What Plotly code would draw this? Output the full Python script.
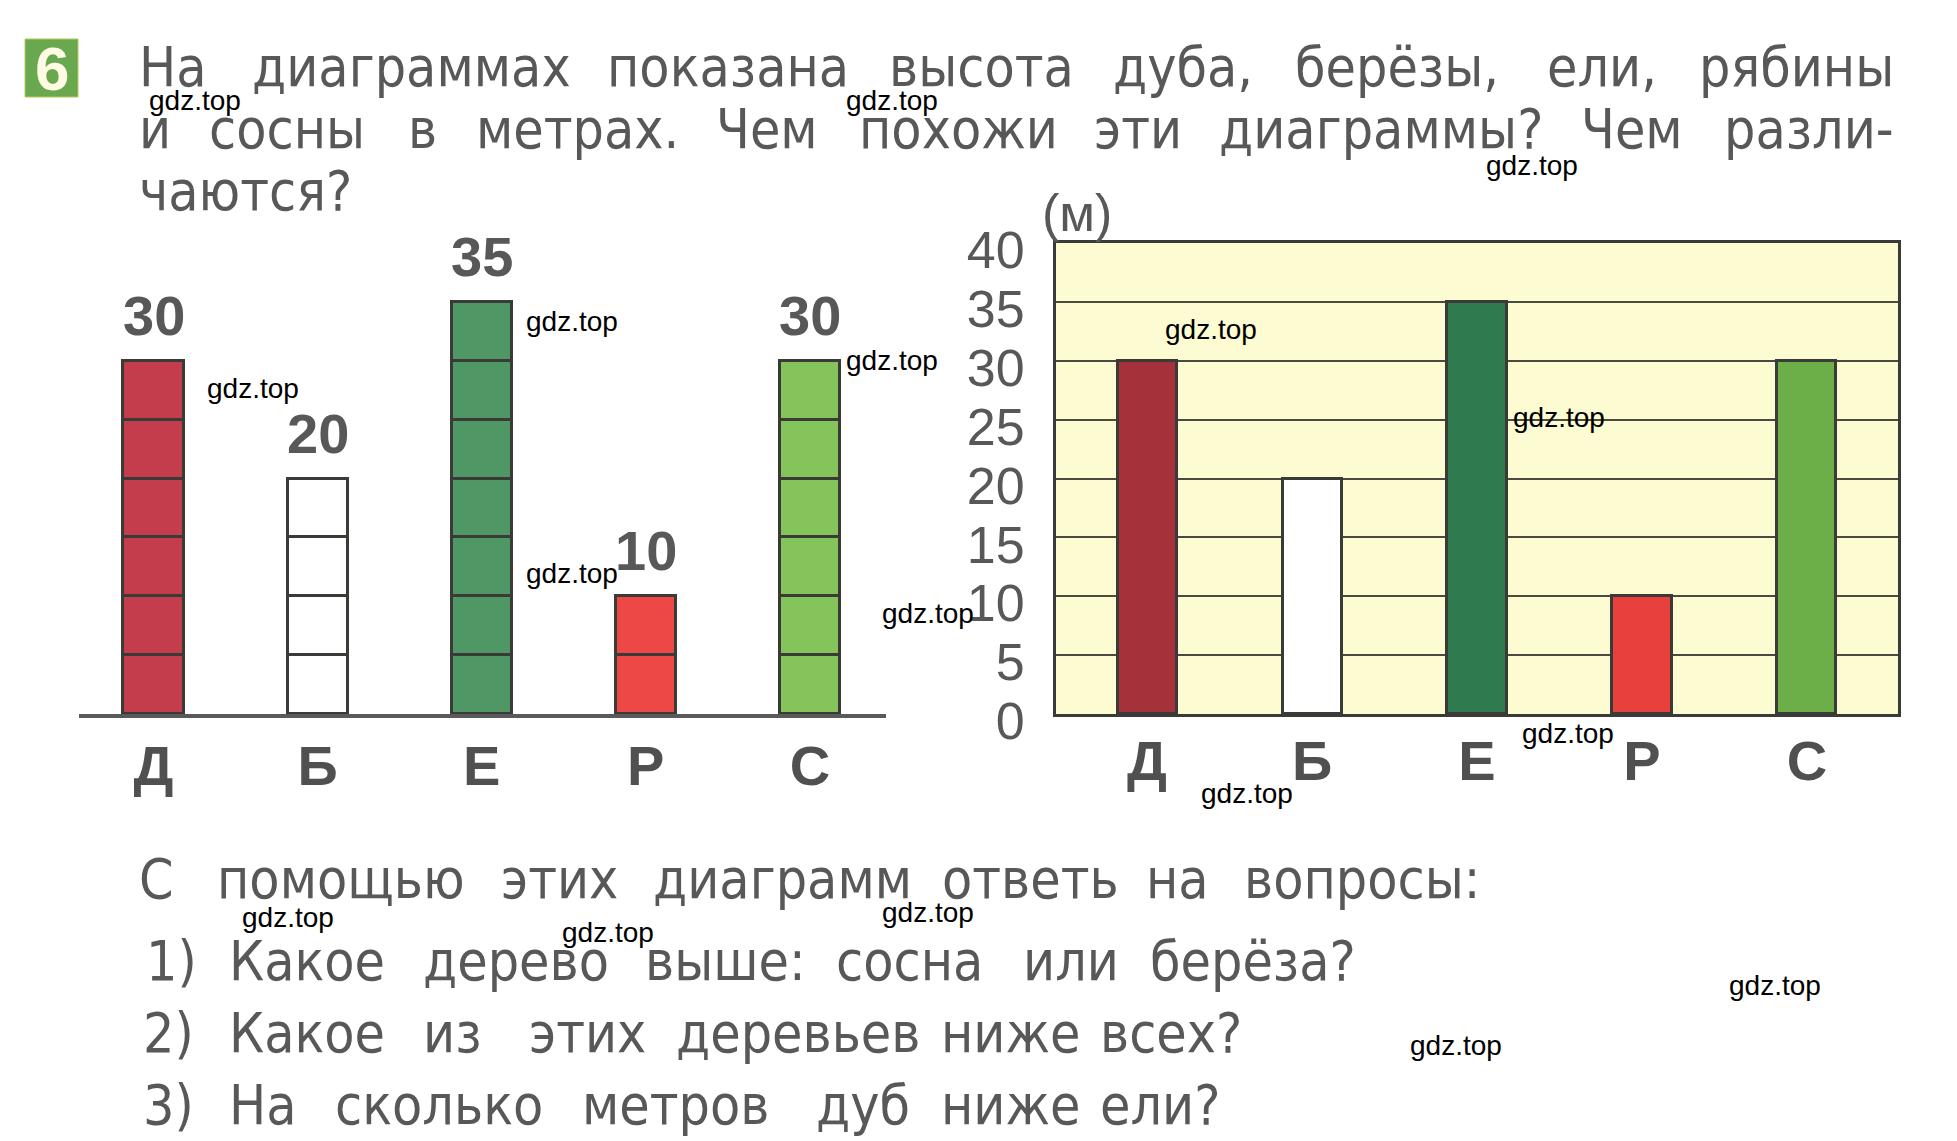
import plotly.graph_objects as go

# ---------------- data ----------------
categories = ["Д", "Б", "Е", "Р", "С"]
heights_m = [30, 20, 35, 10, 30]
segment_m = 5
y_ticks = [0, 5, 10, 15, 20, 25, 30, 35, 40]
left_colors = ["#c43d4d", "#ffffff", "#4f9764", "#ee4846", "#85c35b"]
right_colors = ["#a5323b", "#ffffff", "#2f7a4f", "#e8403c", "#6caf48"]

title_lines = [
    ["На", "диаграммах", "показана", "высота", "дуба,", "берёзы,", "ели,", "рябины"],
    ["и", "сосны", "в", "метрах.", "Чем", "похожи", "эти", "диаграммы?", "Чем", "разли-"],
    ["чаются?"],
]
question_lines = [
    ["С", "помощью", "этих", "диаграмм", "ответь", "на", "вопросы:"],
    ["1)", "Какое", "дерево", "выше:", "сосна", "или", "берёза?"],
    ["2)", "Какое", "из", "этих", "деревьев", "ниже", "всех?"],
    ["3)", "На", "сколько", "метров", "дуб", "ниже", "ели?"],
]
watermark = "gdz.top"

# ---------------- layout constants ----------------
W, H = 1957, 1141
def px(x):
    return x / W
def py(y):
    return 1 - y / H

title_x = [
    [137, 250, 605, 887, 1111, 1293, 1545, 1697],
    [137, 207, 406, 474, 714, 857, 1092, 1217, 1579, 1722],
    [137],
]
title_y = [67, 129, 191]
q_x = [
    [137, 215, 499, 651, 940, 1144, 1242],
    [144, 227, 421, 643, 834, 1021, 1148],
    [141, 227, 421, 527, 674, 939, 1098],
    [141, 227, 333, 580, 814, 939, 1098],
]
q_y = [879, 961, 1033, 1105]
wm_pos = [(147, 100), (844, 100), (1484, 165), (524, 321), (205, 388), (844, 361),
          (1163, 329), (524, 573), (880, 613), (1511, 417), (1520, 733), (1199, 793),
          (240, 917), (560, 932), (880, 912), (1727, 985), (1408, 1045)]

TEXT_FONT = "DejaVu Sans Condensed, Liberation Sans Narrow, Liberation Sans"
GRAY = "#585858"
OUTLINE = "#3a3a36"

fig = go.Figure()

# left chart: stacked 5 m blocks
n_seg = max(heights_m) // segment_m
for k in range(n_seg):
    ys = [segment_m if h >= segment_m * (k + 1) else None for h in heights_m]
    fig.add_trace(go.Bar(
        x=categories, y=ys, xaxis="x", yaxis="y",
        marker=dict(color=left_colors, line=dict(color=OUTLINE, width=3)),
        width=0.366, showlegend=False, hoverinfo="skip",
    ))

# right chart: plain bars
fig.add_trace(go.Bar(
    x=categories, y=heights_m, xaxis="x2", yaxis="y2",
    marker=dict(color=right_colors, line=dict(color=OUTLINE, width=3)),
    width=0.358, showlegend=False, hoverinfo="skip",
))

annotations = []
# value labels on left chart
for c, h in zip(categories, heights_m):
    annotations.append(dict(
        x=c, y=h, xref="x", yref="y", text=str(h), showarrow=False,
        yanchor="bottom", yshift=12,
        font=dict(family="Liberation Sans Narrow, Liberation Sans", size=56, color=GRAY, weight="bold"),
    ))

for words, xs, y in zip(title_lines, title_x, title_y):
    for w, x in zip(words, xs):
        annotations.append(dict(
            x=px(x), y=py(y), xref="paper", yref="paper", text=w, showarrow=False,
            xanchor="left", yanchor="middle",
            font=dict(family=TEXT_FONT, size=55, color=GRAY),
        ))
for words, xs, y in zip(question_lines, q_x, q_y):
    for w, x in zip(words, xs):
        annotations.append(dict(
            x=px(x), y=py(y), xref="paper", yref="paper", text=w, showarrow=False,
            xanchor="left", yanchor="middle",
            font=dict(family=TEXT_FONT, size=55, color=GRAY),
        ))

annotations.append(dict(
    x=px(1040), y=py(213), xref="paper", yref="paper", text="(м)", showarrow=False,
    xanchor="left", yanchor="middle",
    font=dict(family="Liberation Sans", size=52, color=GRAY),
))
annotations.append(dict(
    x=px(51.5), y=py(68), xref="paper", yref="paper", text="6", showarrow=False,
    xanchor="center", yanchor="middle",
    font=dict(family="Liberation Sans", size=62, color="#fffbe4", weight="bold"),
))
for (x, y) in wm_pos:
    annotations.append(dict(
        x=px(x), y=py(y), xref="paper", yref="paper", text=watermark, showarrow=False,
        xanchor="left", yanchor="middle",
        font=dict(family="Liberation Sans", size=28, color="#000000"),
    ))

shapes = [
    dict(type="rect", xref="x2 domain", yref="y2 domain", x0=0, x1=1, y0=0, y1=1,
         fillcolor="#fdfbd2", line=dict(width=0), layer="below"),
    dict(type="rect", xref="paper", yref="paper", x0=px(25), x1=px(78), y0=py(97), y1=py(39),
         fillcolor="#6aa84f", line=dict(color="#b8c85a", width=1), layer="below"),
]

y_dom = [py(714), py(243)]
cat_font = dict(family="Liberation Sans", size=56, color="#505050", weight="bold")

fig.update_layout(
    width=W, height=H, autosize=False,
    margin=dict(l=0, r=0, t=0, b=0, pad=0, autoexpand=False),
    paper_bgcolor="white", plot_bgcolor="rgba(0,0,0,0)",
    barmode="stack", bargap=0,
    xaxis=dict(domain=[px(79), px(886)], range=[-0.454, 4.464], anchor="y",
               showline=True, linecolor="#5a5a5a", linewidth=4, ticks="",
               showgrid=False, zeroline=False, tickfont=cat_font, ticklabelstandoff=0,
               automargin=False, fixedrange=True),
    yaxis=dict(domain=y_dom, range=[0, 40], visible=False, automargin=False, fixedrange=True),
    xaxis2=dict(domain=[px(1056), px(1898)], range=[-0.552, 4.552], anchor="y2",
                showline=True, mirror=True, linecolor=OUTLINE, linewidth=3, ticks="",
                showgrid=False, zeroline=False, tickfont=cat_font, ticklabelstandoff=-4,
                automargin=False, fixedrange=True),
    yaxis2=dict(domain=y_dom, range=[0, 40], anchor="x2", tickvals=y_ticks,
                showgrid=True, gridcolor="#4a4a40", gridwidth=2,
                showline=True, mirror=True, linecolor=OUTLINE, linewidth=3,
                ticks="", zeroline=False, ticklabelstandoff=18, ticklabelshift=7,
                tickfont=dict(family="Liberation Sans", size=52, color=GRAY),
                automargin=False, fixedrange=True),
    annotations=annotations,
    shapes=shapes,
)

fig.write_html("out.html")
